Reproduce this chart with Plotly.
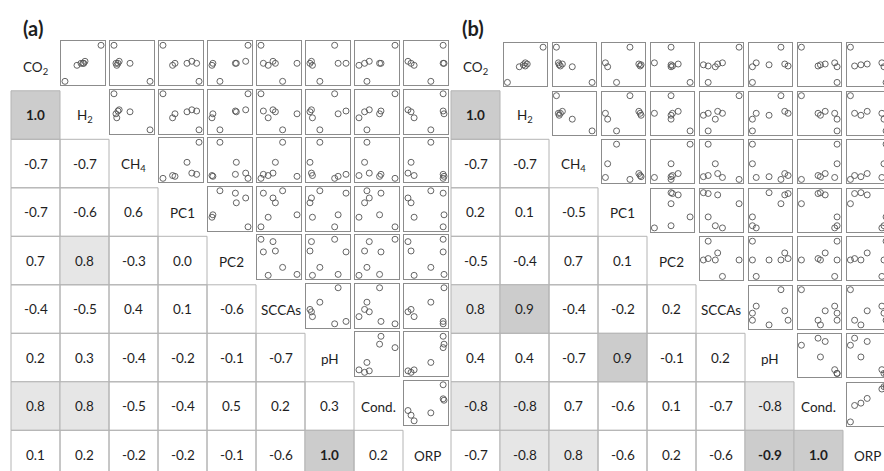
import plotly.graph_objects as go

W, H = 884, 471

var_labels = ["CO<sub>2</sub>", "H<sub>2</sub>", "CH<sub>4</sub>", "PC1", "PC2",
              "SCCAs", "pH", "Cond.", "ORP"]
panel_titles = ["(a)", "(b)"]

# ---- panel (a): per-variable sample values (7 samples, relative units) ----
a_CO2 = [0.95, 0.05, 0.45, 0.50, 0.50, 0.50, 0.55]
a_H2 = [0.95, 0.05, 0.35, 0.45, 0.50, 0.52, 0.55]
a_CH4 = [0.05, 0.95, 0.12, 0.10, 0.45, 0.15, 0.18]
a_PC1 = [0.10, 0.85, 0.30, 0.35, 0.60, 0.80, 0.70]
a_PC2 = [0.85, 0.25, 0.08, 0.10, 0.60, 0.58, 0.80]
a_SCCAs = [0.10, 0.55, 0.25, 0.85, 0.40, 0.15, 0.35]
a_pH = [0.65, 0.35, 0.20, 0.72, 0.15, 0.88, 0.18]
a_Cond = [0.85, 0.25, 0.08, 0.52, 0.20, 0.55, 0.30]
a_ORP = [0.88, 0.60, 0.22, 0.90, 0.15, 0.88, 0.08]

# ---- panel (b) ----
b_CO2 = [0.95, 0.05, 0.50, 0.47, 0.45, 0.52, 0.55]
b_H2 = [0.95, 0.05, 0.45, 0.50, 0.35, 0.55, 0.50]
b_CH4 = [0.05, 0.95, 0.12, 0.15, 0.45, 0.20, 0.10]
b_PC1 = [0.65, 0.35, 0.90, 0.88, 0.15, 0.85, 0.10]
b_PC2 = [0.45, 0.85, 0.45, 0.48, 0.45, 0.60, 0.10]
b_SCCAs = [0.85, 0.20, 0.10, 0.20, 0.35, 0.40, 0.50]
b_pH = [0.70, 0.10, 0.45, 0.85, 0.10, 0.78, 0.18]
b_Cond = [0.10, 0.85, 0.50, 0.45, 0.85, 0.60, 0.80]
b_ORP = [0.10, 0.95, 0.35, 0.20, 0.90, 0.50, 0.85]

# ---- correlation coefficients (lower triangle, row by row) ----
a_corr = [
    [],
    [1.0],
    [-0.7, -0.7],
    [-0.7, -0.6, 0.6],
    [0.7, 0.8, -0.3, 0.0],
    [-0.4, -0.5, 0.4, 0.1, -0.6],
    [0.2, 0.3, -0.4, -0.2, -0.1, -0.7],
    [0.8, 0.8, -0.5, -0.4, 0.5, 0.2, 0.3],
    [0.1, 0.2, -0.2, -0.2, -0.1, -0.6, 1.0, 0.2],
]
b_corr = [
    [],
    [1.0],
    [-0.7, -0.7],
    [0.2, 0.1, -0.5],
    [-0.5, -0.4, 0.7, 0.1],
    [0.8, 0.9, -0.4, -0.2, 0.2],
    [0.4, 0.4, -0.7, 0.9, -0.1, 0.2],
    [-0.8, -0.8, 0.7, -0.6, 0.1, -0.7, -0.8],
    [-0.7, -0.8, 0.8, -0.6, 0.2, -0.6, -0.9, 1.0],
]
# significant (bold) coefficients: (row, col)
a_bold = [(1, 0), (8, 6)]
b_bold = [(1, 0), (8, 6), (8, 7)]

panels = [
    dict(title=panel_titles[0],
         data=[a_CO2, a_H2, a_CH4, a_PC1, a_PC2, a_SCCAs, a_pH, a_Cond, a_ORP],
         corr=a_corr, bold=a_bold, x0=11.0, bx=(1.0, 45.0), by=(-1.0, 43.0)),
    dict(title=panel_titles[1],
         data=[b_CO2, b_H2, b_CH4, b_PC1, b_PC2, b_SCCAs, b_pH, b_Cond, b_ORP],
         corr=b_corr, bold=b_bold, x0=451.0, bx=(3.5, 47.0), by=(1.0, 44.0)),
]

COL_W = 49.0
ROW_H = 48.5
Y0 = 42.3
FONT = "Lato, 'Open Sans', Arial, sans-serif"
TXT = "#1e1e1e"


def px(x):
    return x / W


def py(y):
    return 1 - y / H


def shade(v):
    a = abs(v)
    if a >= 0.85:
        return "#cccccc"
    if a >= 0.75:
        return "#e6e6e6"
    return "rgba(255,255,255,0)"


def rng(vals):
    lo, hi = min(vals), max(vals)
    span = (hi - lo) or 1.0
    return [lo - 0.11 * span, hi + 0.11 * span]


def label(text, x, y, size=13.5):
    return dict(text=text, x=px(x), y=py(y), xref="paper", yref="paper",
                xanchor="center", yanchor="middle", showarrow=False,
                font=dict(size=size, family=FONT, color=TXT))


fig = go.Figure()
layout = {}
shapes = []
annotations = []
k = 0

for p in panels:
    x0 = p["x0"]
    n = len(p["data"])
    annotations.append(label("<b>" + p["title"] + "</b>", x0 + 22, 28, size=20))
    for i in range(n):
        top = Y0 + ROW_H * i
        for j in range(n):
            left = x0 + COL_W * j
            cx = left + COL_W / 2
            cy = top + ROW_H / 2
            if i == j:
                annotations.append(label(var_labels[i], cx, cy + 1))
            elif j < i:
                v = p["corr"][i][j]
                shapes.append(dict(type="rect", xref="paper", yref="paper",
                                   x0=px(left), x1=px(left + COL_W),
                                   y0=py(top + ROW_H), y1=py(top),
                                   fillcolor=shade(v),
                                   line=dict(color="#b4b4b4", width=1), layer="below"))
                s = f"{v:.1f}"
                if (i, j) in p["bold"]:
                    s = "<b>" + s + "</b>"
                annotations.append(label(s, cx, cy))
            else:
                k += 1
                xs = p["data"][j]
                ys = p["data"][i]
                bl = left + p["bx"][0]
                br = left + p["bx"][1]
                xr = rng(xs)
                clipped = br > W
                if clipped:
                    frac = (W - bl) / (br - bl)
                    xr = [xr[0], xr[0] + (xr[1] - xr[0]) * frac]
                    br = W
                xa = "xaxis" if k == 1 else f"xaxis{k}"
                ya = "yaxis" if k == 1 else f"yaxis{k}"
                common = dict(showgrid=False, zeroline=False, showticklabels=False,
                              ticks="", showline=True,
                              linecolor="#8c8c8c", linewidth=1.3, fixedrange=True)
                layout[xa] = dict(domain=[px(bl), min(1.0, px(br))],
                                  range=xr, anchor=f"y{k}", mirror=True, **common)
                layout[ya] = dict(domain=[py(top + p["by"][1]), py(top + p["by"][0])],
                                  range=rng(ys), anchor=f"x{k}", side="left",
                                  mirror=not clipped, **common)
                fig.add_trace(go.Scatter(x=xs, y=ys, mode="markers",
                                         xaxis=f"x{k}", yaxis=f"y{k}",
                                         marker=dict(symbol="circle-open", size=6,
                                                     color="#555555",
                                                     line=dict(width=0.9, color="#555555")),
                                         hoverinfo="skip", showlegend=False))

fig.update_layout(width=W, height=H, margin=dict(l=0, r=0, t=0, b=0),
                  paper_bgcolor="white", plot_bgcolor="white",
                  shapes=shapes, annotations=annotations, showlegend=False,
                  **layout)

fig.write_html("out.html", config={"displayModeBar": False},
               post_script="document.body.style.margin='0';")
